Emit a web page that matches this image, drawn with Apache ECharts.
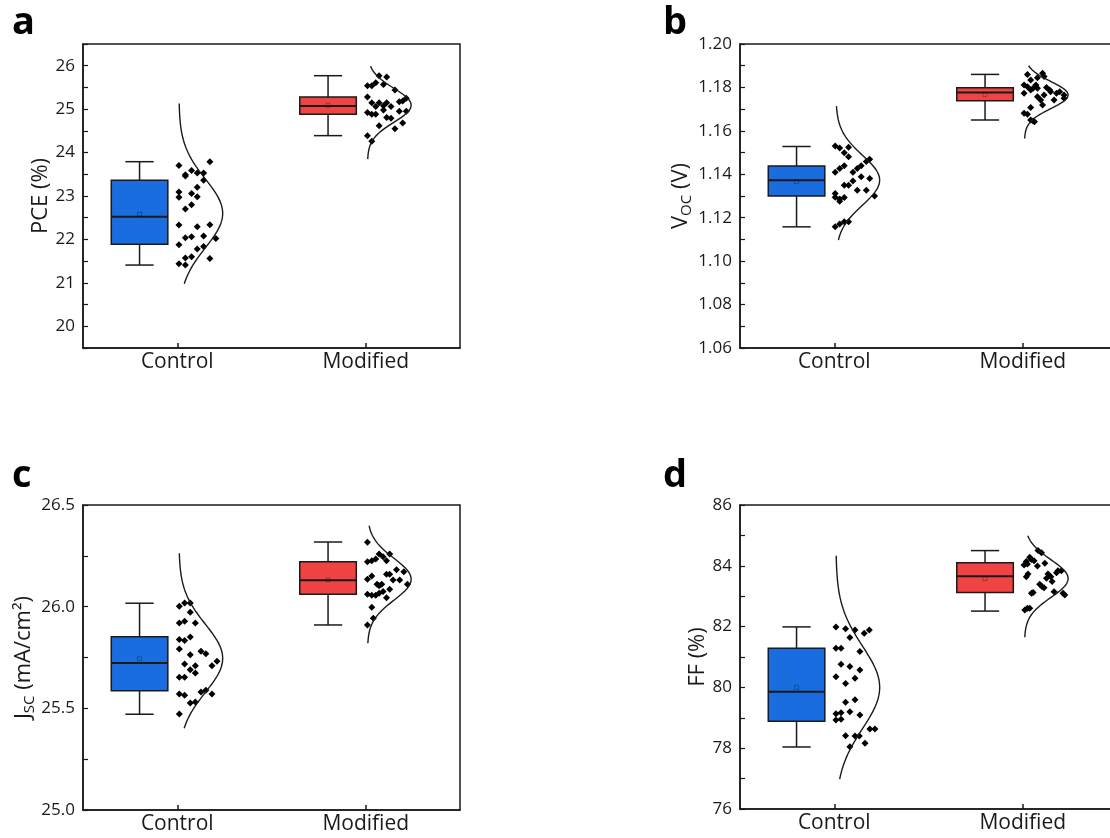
<!DOCTYPE html>
<html><head><meta charset="utf-8">
<script src="https://cdn.jsdelivr.net/npm/echarts@6/dist/echarts.min.js"></script>
<style>html,body{margin:0;padding:0;background:#fff;overflow:hidden}#c{width:1110px;height:838px}</style>
</head><body><div id="c"></div>
<script>
const categories = ['Control', 'Modified'];

// ---- PCE (%) ----
const pceControl = [23.70,23.79,23.59,23.49,23.46,23.53,23.53,23.36,23.20,23.09,22.97,23.06,22.98,22.80,22.70,22.33,22.29,22.34,22.04,22.06,22.08,22.02,21.88,21.78,21.84,21.57,21.60,21.56,21.44,21.41];
const pceControlJitter = [0.009,0.173,0.076,0.043,0.043,0.106,0.140,0.140,0.106,0.009,0.009,0.076,0.106,0.076,0.043,0.009,0.106,0.173,0.043,0.076,0.140,0.205,0.009,0.106,0.140,0.043,0.076,0.173,0.009,0.043];
const pceModified = [25.77,25.74,25.54,25.54,25.61,25.57,25.44,25.28,25.15,25.06,25.15,25.08,25.15,25.06,24.98,25.17,25.19,25.25,24.92,24.88,24.88,24.81,24.79,24.95,24.95,24.62,24.55,24.68,24.39,24.26];
const pceModifiedJitter = [0.071,0.111,0.009,0.032,0.053,0.094,0.155,0.009,0.032,0.053,0.071,0.094,0.111,0.134,0.094,0.178,0.196,0.215,0.009,0.032,0.053,0.111,0.134,0.178,0.215,0.071,0.155,0.196,0.009,0.032];
// box stats: [min, Q1, median, Q3, max, mean]
const pceBoxControl = [21.41, 21.89, 22.52, 23.36, 23.79, 22.58];
const pceBoxModified = [24.39, 24.88, 25.07, 25.28, 25.77, 25.09];
// normal curve: [mean, sd, from, to]
const pceCurveControl = [22.60, 0.79, 20.98, 25.13];
const pceCurveModified = [25.09, 0.39, 23.85, 26.00];

// ---- Voc (V) ----
const vocControl = [1.1530,1.1521,1.1499,1.1524,1.1481,1.1469,1.1459,1.1409,1.1427,1.1439,1.1409,1.1427,1.1439,1.1389,1.1381,1.1369,1.1350,1.1350,1.1327,1.1327,1.1312,1.1294,1.1286,1.1293,1.1276,1.1300,1.1158,1.1171,1.1181,1.1181];
const vocControlJitter = [0.005,0.029,0.053,0.076,0.076,0.188,0.170,0.005,0.029,0.053,0.099,0.122,0.143,0.143,0.188,0.099,0.053,0.076,0.122,0.170,0.005,0.005,0.029,0.053,0.029,0.214,0.005,0.029,0.053,0.076];
const vocModified = [1.1860,1.1834,1.1845,1.1865,1.1850,1.1811,1.1803,1.1811,1.1796,1.1800,1.1788,1.1773,1.1788,1.1796,1.1780,1.1773,1.1780,1.1765,1.1750,1.1757,1.1742,1.1765,1.1742,1.1719,1.1708,1.1681,1.1676,1.1650,1.1645,1.1642];
const vocModifiedJitter = [0.025,0.042,0.078,0.105,0.113,0.007,0.025,0.070,0.078,0.126,0.143,0.007,0.042,0.055,0.148,0.179,0.196,0.219,0.219,0.078,0.095,0.113,0.166,0.105,0.042,0.007,0.025,0.042,0.055,0.062];
const vocBoxControl = [1.1158, 1.1300, 1.1373, 1.1438, 1.1528, 1.1366];
const vocBoxModified = [1.1650, 1.1739, 1.1777, 1.1799, 1.1860, 1.1767];
const vocCurveControl = [1.1373, 0.0115, 1.1097, 1.1714];
const vocCurveModified = [1.1765, 0.0062, 1.1565, 1.1900];

// ---- Jsc (mA/cm2) ----
const jscControl = [26.002,26.018,26.018,25.972,25.920,25.928,25.920,25.838,25.833,25.851,25.792,25.764,25.781,25.769,25.718,25.710,25.690,25.674,25.710,25.731,25.653,25.653,25.571,25.564,25.580,25.589,25.571,25.526,25.531,25.472];
const jscControlJitter = [0.011,0.039,0.069,0.069,0.011,0.039,0.096,0.011,0.039,0.069,0.011,0.069,0.126,0.152,0.039,0.096,0.069,0.096,0.184,0.211,0.011,0.039,0.011,0.039,0.126,0.152,0.184,0.069,0.096,0.011];
const jscModified = [26.317,26.221,26.226,26.235,26.259,26.246,26.226,26.259,26.181,26.172,26.135,26.151,26.159,26.159,26.131,26.131,26.110,26.103,26.110,26.110,26.086,26.061,26.056,26.056,26.066,26.074,26.044,25.997,25.910,25.943];
const jscModifiedJitter = [0.009,0.009,0.032,0.053,0.071,0.092,0.110,0.127,0.163,0.202,0.009,0.032,0.110,0.127,0.145,0.180,0.060,0.071,0.085,0.221,0.127,0.009,0.032,0.053,0.071,0.092,0.110,0.032,0.009,0.040];
const jscBoxControl = [25.471, 25.587, 25.723, 25.852, 26.017, 25.744];
const jscBoxModified = [25.910, 26.061, 26.130, 26.221, 26.318, 26.132];
const jscCurveControl = [25.746, 0.167, 25.402, 26.263];
const jscCurveModified = [26.135, 0.103, 25.820, 26.398];

// ---- FF (%) ----
const ffControl = [81.99,81.93,81.89,81.64,81.78,81.89,81.29,81.29,81.18,80.76,80.69,80.57,80.35,80.13,80.30,79.51,79.59,79.13,79.17,79.20,78.93,78.95,79.09,78.63,78.63,78.41,78.40,78.40,78.16,78.05];
const ffControlJitter = [0.009,0.060,0.110,0.083,0.159,0.186,0.009,0.036,0.136,0.036,0.083,0.136,0.009,0.060,0.110,0.060,0.110,0.009,0.036,0.083,0.009,0.036,0.136,0.189,0.216,0.060,0.110,0.133,0.163,0.083];
const ffModified = [84.50,84.43,84.28,84.21,84.14,84.03,84.06,84.17,83.99,84.08,83.84,83.77,83.84,83.73,83.64,83.73,83.64,83.59,83.48,83.39,83.28,83.31,83.12,83.10,83.15,83.10,83.04,82.60,82.55,82.60];
const ffModifiedJitter = [0.081,0.099,0.037,0.046,0.019,0.007,0.025,0.060,0.078,0.117,0.187,0.179,0.205,0.028,0.019,0.134,0.149,0.126,0.156,0.090,0.113,0.103,0.055,0.046,0.166,0.214,0.223,0.025,0.011,0.037];
const ffBoxControl = [78.04, 78.89, 79.86, 81.29, 81.99, 80.00];
const ffBoxModified = [82.51, 83.12, 83.66, 84.10, 84.50, 83.58];
const ffCurveControl = [80.00, 1.36, 76.98, 84.33];
const ffCurveModified = [83.58, 0.62, 81.65, 84.99];

// ---- styling / layout ----
const FONT = '"Open Sans", "Noto Sans", sans-serif';
const INK = '#1a1a1a';
const BOX_COLORS = ['#1a6ddf', '#f04343'];
const BOX_OFFSET = -0.2, BOX_WIDTH = 0.3, CURVE_BASE = 0.009, CURVE_AMP = 0.232;

const panels = [
  { letter: 'a', grid: {left: 83, top: 44, width: 377, height: 304}, cut: false,
    y: {min: 19.5, max: 26.5, interval: 0.5, fmt: v => (Math.abs(v - Math.round(v)) < 1e-6 ? String(Math.round(v)) : '')},
    name: 'PCE (%)', nameGap: 30,
    pts: [[pceControl, pceControlJitter], [pceModified, pceModifiedJitter]],
    box: [pceBoxControl, pceBoxModified], curve: [pceCurveControl, pceCurveModified] },
  { letter: 'b', grid: {left: 740, top: 44, width: 377, height: 304}, cut: true,
    y: {min: 1.06, max: 1.20, interval: 0.01, fmt: v => (Math.round(v * 100) % 2 === 0 ? v.toFixed(2) : '')},
    name: '{n|V}{s|OC}{n| (V)}', nameGap: 44,
    pts: [[vocControl, vocControlJitter], [vocModified, vocModifiedJitter]],
    box: [vocBoxControl, vocBoxModified], curve: [vocCurveControl, vocCurveModified] },
  { letter: 'c', grid: {left: 83, top: 505, width: 377, height: 305}, cut: false,
    y: {min: 25.0, max: 26.5, interval: 0.25, fmt: v => (Math.round(v * 4) % 2 === 0 ? v.toFixed(1) : '')},
    name: '{n|J}{s|SC}{n| (mA/cm²)}', nameGap: 29,
    pts: [[jscControl, jscControlJitter], [jscModified, jscModifiedJitter]],
    box: [jscBoxControl, jscBoxModified], curve: [jscCurveControl, jscCurveModified] },
  { letter: 'd', grid: {left: 740, top: 505, width: 377, height: 304}, cut: true,
    y: {min: 76, max: 86, interval: 1, fmt: v => (Math.round(v) % 2 === 0 ? String(Math.round(v)) : '')},
    name: 'FF (%)', nameGap: 29,
    pts: [[ffControl, ffControlJitter], [ffModified, ffModifiedJitter]],
    box: [ffBoxControl, ffBoxModified], curve: [ffCurveControl, ffCurveModified] }
];

function renderBox(params, api) {
  const x = api.value(0);
  const mn = api.value(1), q1 = api.value(2), md = api.value(3), q3 = api.value(4), mx = api.value(5), mean = api.value(6);
  const w = api.size([BOX_WIDTH, 0])[0];
  const hw = w / 2, cap = w / 4;
  const pMax = api.coord([x, mx]), pQ3 = api.coord([x, q3]), pMd = api.coord([x, md]);
  const pQ1 = api.coord([x, q1]), pMn = api.coord([x, mn]), pMean = api.coord([x, mean]);
  const cx = pMax[0];
  const ls = {stroke: INK, lineWidth: 1.5};
  const fill = BOX_COLORS[params.dataIndex];
  return {type: 'group', children: [
    {type: 'line', shape: {x1: cx, y1: pMax[1], x2: cx, y2: pQ3[1]}, style: ls},
    {type: 'line', shape: {x1: cx, y1: pQ1[1], x2: cx, y2: pMn[1]}, style: ls},
    {type: 'line', shape: {x1: cx - cap, y1: pMax[1], x2: cx + cap, y2: pMax[1]}, style: ls},
    {type: 'line', shape: {x1: cx - cap, y1: pMn[1], x2: cx + cap, y2: pMn[1]}, style: ls},
    {type: 'rect', shape: {x: cx - hw, y: pQ3[1], width: w, height: pQ1[1] - pQ3[1]}, style: {fill: fill, stroke: INK, lineWidth: 1.5}},
    {type: 'line', shape: {x1: cx - hw, y1: pMd[1], x2: cx + hw, y2: pMd[1]}, style: {stroke: INK, lineWidth: 2}},
    {type: 'rect', shape: {x: cx - 2, y: pMean[1] - 2, width: 4, height: 4}, style: {fill: 'none', stroke: 'rgba(0,0,0,0.35)', lineWidth: 0.8}}
  ]};
}

function curveData(c, tick) {
  const [mu, sd, lo, hi] = c;
  const out = [];
  const n = 160;
  for (let i = 0; i <= n; i++) {
    const y = lo + (hi - lo) * i / n;
    const z = (y - mu) / sd;
    out.push([tick + CURVE_BASE + CURVE_AMP * Math.exp(-0.5 * z * z), y]);
  }
  return out;
}

const option = {
  animation: false,
  backgroundColor: '#fff',
  grid: [], xAxis: [], yAxis: [], series: [], graphic: []
};

const richName = {
  n: {fontSize: 22, fontFamily: FONT, color: INK, padding: [0, 0, 3, 0], verticalAlign: 'bottom'},
  s: {fontSize: 15, fontFamily: FONT, color: INK, verticalAlign: 'bottom'}
};

panels.forEach((p, i) => {
  option.grid.push(Object.assign({show: true, borderColor: INK, borderWidth: 1.5, backgroundColor: 'transparent', outerBoundsMode: 'none', containLabel: false}, p.grid));
  option.xAxis.push({
    gridIndex: i, type: 'value', min: 0.5, max: 2.5, interval: 0.5, position: 'bottom',
    axisLine: {show: true, onZero: false, lineStyle: {color: INK, width: 1.5}},
    axisTick: {show: true, inside: true, length: 5, customValues: [1, 2], lineStyle: {color: INK, width: 1.5}},
    axisLabel: {show: true, customValues: [1, 2], formatter: v => categories[Math.round(v) - 1] || '',
      fontSize: 21, fontFamily: FONT, color: INK, margin: 4},
    splitLine: {show: false}
  });
  option.yAxis.push({
    gridIndex: i, type: 'value', min: p.y.min, max: p.y.max, interval: p.y.interval, position: 'left',
    name: p.name, nameLocation: 'middle', nameGap: p.nameGap, nameRotate: 90,
    nameTextStyle: {fontSize: 22, fontFamily: FONT, color: INK, rich: richName},
    axisLine: {show: true, onZero: false, lineStyle: {color: INK, width: 1.5}},
    axisTick: {show: true, inside: true, length: 5, lineStyle: {color: INK, width: 1.2}},
    axisLabel: {formatter: p.y.fmt, fontSize: 17, fontFamily: FONT, color: INK, margin: 8, showMinLabel: true, showMaxLabel: true},
    splitLine: {show: false}
  });
  option.series.push({
    type: 'custom', xAxisIndex: i, yAxisIndex: i, renderItem: renderBox,
    encode: {x: 0, y: [1, 2, 3, 4, 5]},
    data: p.box.map((b, g) => [g + 1 + BOX_OFFSET].concat(b)), z: 2
  });
  p.pts.forEach(([vals, jit], g) => {
    option.series.push({
      type: 'scatter', xAxisIndex: i, yAxisIndex: i, symbol: 'diamond', symbolSize: 7,
      itemStyle: {color: '#000', opacity: 1}, z: 3,
      data: vals.map((v, k) => [g + 1 + jit[k], v])
    });
  });
  p.curve.forEach((c, g) => {
    option.series.push({
      type: 'line', xAxisIndex: i, yAxisIndex: i, showSymbol: false, symbol: 'none',
      lineStyle: {color: INK, width: 1.4}, data: curveData(c, g + 1), z: 4
    });
  });
  const lx = p.grid.left < 400 ? 12 : 663;
  const ly = p.grid.top < 300 ? 4 : 457;
  option.graphic.push({type: 'text', x: lx, y: ly, z: 100, style: {text: p.letter, font: 'bold 38px ' + FONT, fill: '#000'}});
  // the right-hand panels run past the page edge in the reference: no right frame line is visible there
  if (p.cut) {
    option.graphic.push({type: 'rect', z: 100, shape: {x: 1100, y: p.grid.top + 1.5, width: 40, height: p.grid.height - 3}, style: {fill: '#fff'}});
  }
});

const chart = echarts.init(document.getElementById('c'), null, {renderer: 'canvas'});
chart.setOption(option);
</script></body></html>
